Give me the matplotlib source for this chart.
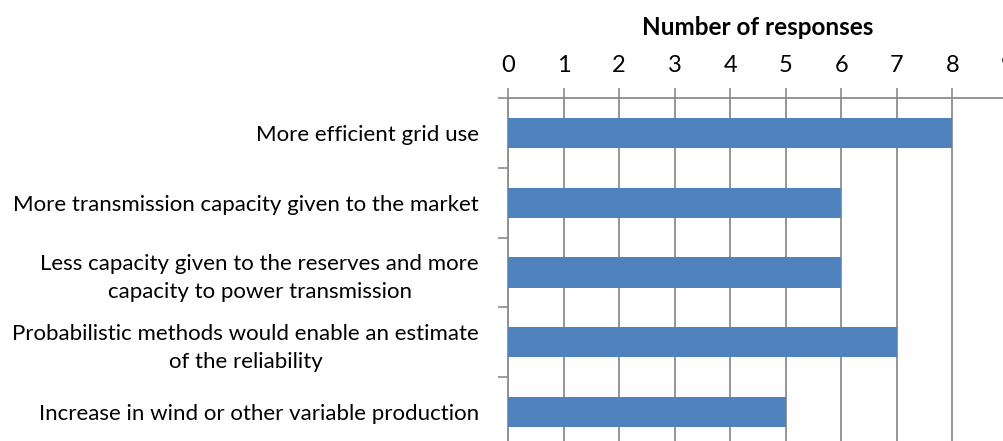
import matplotlib
matplotlib.use("Agg")
import matplotlib.pyplot as plt
import numpy as np

categories = [
    "More efficient grid use",
    "More transmission capacity given to the market",
    "Less capacity given to the reserves and more\ncapacity to power transmission",
    "Probabilistic methods would enable an estimate\nof the reliability",
    "Increase in wind or other variable production",
]
responses = [8, 6, 6, 7, 5]
x_ticks = list(range(0, 10))

plt.rcParams["font.family"] = ["Lato", "DejaVu Sans"]

W, H = 1004, 441
fig = plt.figure(figsize=(W / 100, H / 100), dpi=100)
# axes placed in pixel terms, allowed to run past the right/bottom edges
left, right, top, bottom = 508, 1008, 98, 447
ax = fig.add_axes([left / W, (H - bottom) / H, (right - left) / W, (bottom - top) / H])

grid_color = "#8c8c8c"
bar_color = "#4f81bd"

y = np.arange(len(categories))
ax.barh(y, responses, height=0.43, color=bar_color, zorder=3)

ax.set_xlim(0, 9)
ax.set_ylim(len(categories) - 0.5, -0.5)

ax.xaxis.tick_top()
ax.xaxis.set_label_position("top")
ax.set_xticks(x_ticks)
ax.tick_params(axis="x", which="major", length=7, width=1.2, color=grid_color,
               pad=9, labelsize=17)
ax.set_xlabel("Number of responses", fontsize=17.5, fontweight="bold", labelpad=14)

ax.set_yticks(y)
ax.set_yticklabels(categories, fontsize=16, ha="right", multialignment="center",
                   linespacing=1.5)
ax.set_yticks(np.arange(-0.5, len(categories)), minor=True)
ax.tick_params(axis="y", which="major", length=0, pad=21)
ax.tick_params(axis="y", which="minor", length=7, width=1.2, color=grid_color)

ax.xaxis.grid(True, color=grid_color, linewidth=1.3, zorder=0)
for s in ["right", "bottom"]:
    ax.spines[s].set_visible(False)
for s in ["left", "top"]:
    ax.spines[s].set_color(grid_color)
    ax.spines[s].set_linewidth(1.3)

fig.savefig("out.png", dpi=100)
